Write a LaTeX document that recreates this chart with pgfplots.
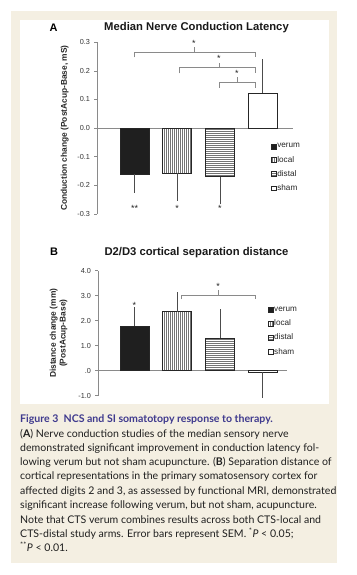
\documentclass[border=0pt]{standalone}
\usepackage{fontspec}
\setmainfont{Liberation Sans}
\newfontfamily\capfont{Lato}
\usepackage{pgfplots}
\pgfplotsset{compat=1.18}
\usetikzlibrary{patterns.meta}

\definecolor{beige}{HTML}{F4EFE2}
\definecolor{captitle}{HTML}{3F3A8E}
\definecolor{axgray}{HTML}{8A8A8A}

\tikzset{
  barbase/.style={draw=black!85, line width=0.6bp},
  verumbar/.style={barbase, fill=black!88},
  localbar/.style={barbase, fill=white, postaction={pattern={Lines[distance=2bp,angle=90,line width=0.55bp]}, pattern color=black!55}},
  distalbar/.style={barbase, fill=white, postaction={pattern={Lines[distance=2bp,angle=0,line width=0.55bp]}, pattern color=black!55}},
  shambar/.style={barbase, fill=white},
  star/.style={font=\fontsize{9}{10}\selectfont, inner sep=0pt, text=black!85},
  brk/.style={draw=axgray, line width=0.55bp},
}

\pgfplotsset{
  barpanel/.style={
    scale only axis,
    clip=false,
    axis y line*=left,
    axis x line=none,
    y axis line style={draw=axgray, line width=0.6bp},
    ytick style={draw=axgray, line width=0.6bp},
    tick align=outside,
    major tick length=3bp,
    yticklabel style={font=\fontsize{7.3}{8}\selectfont, text=black!80, xshift=-0.5bp},
    ylabel style={font=\bfseries\fontsize{8.4}{9.8}\selectfont, text=black!85, anchor=center},
    ybar, bar shift=0pt, bar width=0.68,
    error bars/y explicit,
    error bars/error bar style={draw=black!70, line width=0.6bp},
    error bars/error mark options={draw=black!70, line width=0.6bp, mark size=1.8bp},
    legend style={draw=none, fill=none, font=\fontsize{8.2}{9}\selectfont, text=black!85,
      inner sep=0pt, row sep=5.6bp, nodes={inner sep=0.6bp}},
    legend cell align=left,
    legend image code/.code={\draw[##1, line width=0.5bp] (0bp,-2.4bp) rectangle (4.8bp,2.4bp);},
  }
}

\begin{document}
\begin{tikzpicture}[x=1bp,y=1bp]
\fill[white] (0,0) rectangle (356,-575);
\fill[beige] (11,-11) rectangle (337,-563);
\fill[white] (20,-20) rectangle (329,-404);

% Panel A titles
\node[font=\bfseries\fontsize{11}{12}\selectfont, inner sep=0] at (53.5,-27.5) {A};
\node[font=\bfseries\fontsize{11.3}{12}\selectfont, inner sep=0, text=black!90] at (196.5,-27.5) {Median Nerve Conduction Latency};

\begin{axis}[barpanel,
  at={(97bp,-214bp)}, anchor=south west,
  width=196bp, height=171.8bp,
  xmin=0.121, xmax=4.715, ymin=-0.3, ymax=0.3,
  ytick={-0.3,-0.2,-0.1,0,0.1,0.2,0.3},
  yticklabels={-0.3,-0.2,-0.1,0.0,0.1,0.2,0.3},
  ylabel={Conduction change (PostAcup-Base, mS)},
  ylabel style={at={(axis description cs:-0.165,0.5)}},
  legend style={at={(axis description cs:0.889,0.415)}, anchor=north west},
]
\draw[draw=axgray, line width=0.6bp] ({rel axis cs:0,0} |- {axis cs:1,0}) -- ({rel axis cs:1,0} |- {axis cs:1,0});
\addplot[verumbar, error bars/.cd, y dir=minus] coordinates {(1,-0.161) +- (0,0.059)};
\addplot[localbar, error bars/.cd, y dir=minus] coordinates {(2,-0.157) +- (0,0.091)};
\addplot[distalbar, error bars/.cd, y dir=minus] coordinates {(3,-0.170) +- (0,0.090)};
\addplot[shambar, error bars/.cd, y dir=plus] coordinates {(4,0.123) +- (0,0.112)};
\legend{verum,local,distal,sham}
% significance brackets
\draw[brk] (axis cs:1,0.247) -- (axis cs:1,0.264) -- (axis cs:3.82,0.264) -- (axis cs:3.82,0.247);
\draw[brk] (axis cs:2.39,0.264) -- (axis cs:2.39,0.283);
\node[star] at (axis cs:2.39,0.297) {*};
\draw[brk] (axis cs:2.04,0.191) -- (axis cs:2.04,0.211) -- (axis cs:3.82,0.211) -- (axis cs:3.82,0.191);
\draw[brk] (axis cs:2.98,0.211) -- (axis cs:2.98,0.229);
\node[star] at (axis cs:2.98,0.243) {*};
\draw[brk] (axis cs:2.98,0.141) -- (axis cs:2.98,0.160) -- (axis cs:3.82,0.160) -- (axis cs:3.82,0.141);
\draw[brk] (axis cs:3.40,0.160) -- (axis cs:3.40,0.177);
\node[star] at (axis cs:3.40,0.191) {*};
\node[star] at (axis cs:1,-0.281) {**};
\node[star] at (axis cs:2,-0.281) {*};
\node[star] at (axis cs:3,-0.281) {*};
\end{axis}

% Panel B titles
\node[font=\bfseries\fontsize{11}{12}\selectfont, inner sep=0] at (54,-252) {B};
\node[font=\bfseries\fontsize{11.3}{12}\selectfont, inner sep=0, text=black!90] at (196.5,-252.5) {D2/D3 cortical separation distance};

\begin{axis}[barpanel,
  at={(98bp,-395.7bp)}, anchor=south west,
  width=189bp, height=125bp,
  xmin=0.145, xmax=4.574, ymin=-1, ymax=4,
  ytick={-1,0,1,2,3,4},
  yticklabels={-1.0,.0,1.0,2.0,3.0,4.0},
  ylabel={Distance change (mm)\\(PostAcup-Base)},
  ylabel style={at={(axis description cs:-0.208,0.5)}, align=center},
  legend style={at={(axis description cs:0.90,0.715)}, anchor=north west},
]
\draw[draw=axgray, line width=0.6bp] ({rel axis cs:0,0} |- {axis cs:1,0}) -- ({rel axis cs:1,0} |- {axis cs:1,0});
\addplot[verumbar, error bars/.cd, y dir=plus] coordinates {(1,1.77) +- (0,0.70)};
\addplot[localbar, error bars/.cd, y dir=plus] coordinates {(2,2.36) +- (0,0.70)};
\addplot[distalbar, error bars/.cd, y dir=plus] coordinates {(3,1.29) +- (0,1.09)};
\addplot[shambar, error bars/.cd, y dir=minus] coordinates {(4,-0.07) +- (0,0.93)};
\legend{verum,local,distal,sham}
\node[star] at (axis cs:1,2.62) {*};
\draw[brk] (axis cs:2.09,2.86) -- (axis cs:2.09,3.02) -- (axis cs:3.82,3.02) -- (axis cs:3.82,2.86);
\draw[brk] (axis cs:2.96,3.02) -- (axis cs:2.96,3.22);
\node[star] at (axis cs:2.96,3.38) {*};
\end{axis}

% Caption
\begin{scope}[every node/.style={anchor=base west, inner sep=0, font=\capfont\fontsize{10.6}{12}\selectfont, text=black!88}]
\node[text=captitle] at (20,-422.5) {\bfseries Figure 3\ \ NCS and SI somatotopy response to therapy.};
\node at (20,-437) {(\textbf{A}) Nerve conduction studies of the median sensory nerve};
\node at (20,-451) {demonstrated significant improvement in conduction latency fol-};
\node at (20,-465) {lowing verum but not sham acupuncture. (\textbf{B}) Separation distance of};
\node at (20,-479.5) {cortical representations in the primary somatosensory cortex for};
\node at (20,-494) {affected digits 2 and 3, as assessed by functional MRI, demonstrated};
\node at (20,-508) {significant increase following verum, but not sham, acupuncture.};
\node at (20,-523) {Note that CTS verum combines results across both CTS-local and};
\node at (20,-537) {CTS-distal study arms. Error bars represent SEM. \textsuperscript{*}\textit{P} < 0.05;};
\node at (20,-551.5) {\textsuperscript{**}\textit{P} < 0.01.};
\end{scope}
\end{tikzpicture}
\end{document}
